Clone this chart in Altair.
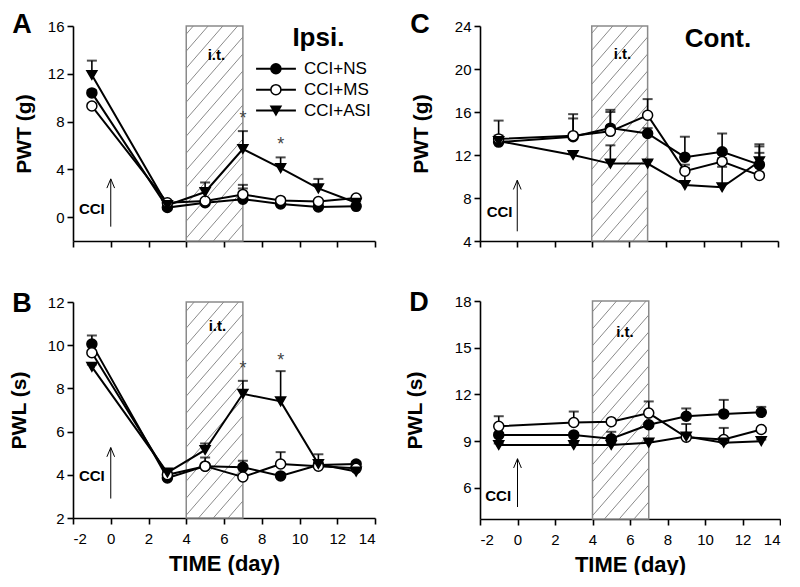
import altair as alt
import pandas as pd
import numpy as np

# ---------------- data ----------------
days = [-1, 3, 5, 7, 9, 11, 13]
groups = ["CCI+NS", "CCI+MS", "CCI+ASI"]

# A: PWT (g), ipsilateral
A_NS = [10.4, 0.8, 1.2, 1.5, 1.1, 0.85, 0.9]
A_MS = [9.3, 1.2, 1.35, 1.9, 1.4, 1.3, 1.6]
A_ASI = [11.9, 1.0, 2.1, 5.7, 4.1, 2.4, 1.2]
A_NS_err = [0.2, 0.1, 0.1, 0.9, 0.1, 0.1, 0.1]
A_MS_err = [0.2, 0.1, 0.1, 0.8, 0.1, 0.1, 0.1]
A_ASI_err = [1.2, 0.1, 0.8, 1.5, 0.9, 0.8, 0.1]

# B: PWL (s), ipsilateral
B_NS = [10.05, 3.85, 4.4, 4.35, 3.95, 4.45, 4.5]
B_MS = [9.65, 4.0, 4.4, 3.9, 4.5, 4.4, 4.3]
B_ASI = [9.0, 4.1, 5.15, 7.75, 7.4, 4.5, 4.15]
B_NS_err = [0.4, 0.3, 0.1, 0.3, 0.1, 0.1, 0.1]
B_MS_err = [0.1, 0.1, 0.4, 0.1, 0.55, 0.55, 0.1]
B_ASI_err = [0.1, 0.1, 0.3, 0.6, 1.4, 0.1, 0.1]

# C: PWT (g), contralateral
C_NS = [13.2, 13.7, 14.5, 14.0, 11.8, 12.3, 11.1]
C_MS = [13.5, 13.8, 14.2, 15.7, 10.5, 11.4, 10.1]
C_ASI = [13.3, 12.0, 11.2, 11.2, 9.2, 9.0, 11.4]
C_NS_err = [2.0, 1.7, 1.7, 0.5, 1.9, 1.7, 1.9]
C_MS_err = [0.3, 2.0, 1.8, 1.5, 0.3, 0.3, 2.7]
C_ASI_err = [0.3, 0.3, 1.7, 0.3, 1.9, 1.9, 0.8]

# D: PWL (s), contralateral
D_NS = [9.4, 9.4, 9.15, 10.05, 10.6, 10.75, 10.85]
D_MS = [9.95, 10.2, 10.25, 10.8, 9.25, 9.1, 9.75]
D_ASI = [8.75, 8.75, 8.75, 8.9, 9.3, 8.9, 9.0]
D_NS_err = [0.1, 0.1, 0.45, 0.1, 0.5, 0.9, 0.35]
D_MS_err = [0.65, 0.7, 0.1, 0.75, 0.1, 0.75, 0.1]
D_ASI_err = [0.1, 0.1, 0.1, 0.1, 0.8, 0.1, 0.1]

# significance stars (day, y)
A_star_days = [7, 9]
A_star_y = [8.2, 6.0]
B_star_days = [7, 9]
B_star_y = [8.9, 9.25]

xticks = [-2, 0, 2, 4, 6, 8, 10, 12, 14]
FONT = "Liberation Sans"

panels = {
    "A": dict(vals=(A_NS, A_MS, A_ASI), errs=(A_NS_err, A_MS_err, A_ASI_err),
              ydom=(-2, 16), yticks=[0, 4, 8, 12, 16], ytitle="PWT (g)", bottom=False,
              tpad=13, letter=(-51, -1), it=(5.6, 13.6), cci=(-1.0, 0.67), arrow=(-0.8, 3.2),
              side=("Ipsi.", 11.0, 15.0), stars=(A_star_days, A_star_y), legend=True,
              w=302, h=215),
    "B": dict(vals=(B_NS, B_MS, B_ASI), errs=(B_NS_err, B_MS_err, B_ASI_err),
              ydom=(2, 12), yticks=[2, 4, 6, 8, 10, 12], ytitle="PWL (s)", bottom=True,
              tpad=18, letter=(-51, 2), it=(5.65, 10.9), cci=(-1.0, 3.96), arrow=(2.9, 5.26),
              side=None, stars=(B_star_days, B_star_y), legend=False,
              w=302, h=216),
    "C": dict(vals=(C_NS, C_MS, C_ASI), errs=(C_NS_err, C_MS_err, C_ASI_err),
              ydom=(4, 24), yticks=[4, 8, 12, 16, 20, 24], ytitle="PWT (g)", bottom=False,
              tpad=23, letter=(-60, -1), it=(5.65, 21.4), cci=(-0.95, 6.7), arrow=(4.9, 9.65),
              side=("Cont.", 10.78, 22.8), stars=None, legend=False,
              w=298, h=215),
    "D": dict(vals=(D_NS, D_MS, D_ASI), errs=(D_NS_err, D_MS_err, D_ASI_err),
              ydom=(4, 18), yticks=[6, 9, 12, 15, 18], ytitle="PWL (s)", bottom=True,
              tpad=29, letter=(-61, 2), it=(5.73, 16.0), cci=(-1.03, 5.5), arrow=(4.77, 7.87),
              side=None, stars=None, legend=False,
              w=300, h=218),
}


def make_panel(key):
    p = panels[key]
    rows = []
    for g, v, e in zip(groups, p["vals"], p["errs"]):
        for d, vv, ee in zip(days, v, e):
            rows.append({"day": d, "value": vv, "top": vv + ee, "group": g})
    df = pd.DataFrame(rows)
    y0, y1 = p["ydom"]
    w, h = p["w"], p["h"]

    xscale = alt.Scale(domain=[-2, 14], nice=False, zero=False)
    yscale = alt.Scale(domain=[y0, y1], nice=False, zero=False)
    xaxis = alt.Axis(values=xticks, labels=p["bottom"], title="TIME (day)" if p["bottom"] else None,
                     titlePadding=7, labelPadding=7, labelExpr="'' + datum.value")
    yaxis = alt.Axis(values=p["yticks"], title=p["ytitle"], titlePadding=p["tpad"],
                     labelExpr="'' + datum.value")

    X = lambda f, **k: alt.X(f, scale=xscale, axis=xaxis, **k)
    Y = lambda f, **k: alt.Y(f, scale=yscale, axis=yaxis, **k)

    # hatched i.t. box
    box = alt.Chart(pd.DataFrame({"x": [4], "x2": [7], "y": [y0], "y2": [y1]})).mark_rect(
        fill="white", stroke="#8a8a8a", strokeWidth=1.5
    ).encode(x=X("x:Q"), x2="x2", y=Y("y:Q"), y2="y2")

    ppu = h / (y1 - y0)
    run_px = (7 - 4) * w / 16
    rise = run_px * 1.15 / ppu
    step = 17 / ppu
    starts = np.arange(y0 - rise, y1 + step, step)
    hatch_df = pd.DataFrame({"x": 4, "x2": 7, "y": starts, "y2": starts + rise})
    hatch = alt.Chart(hatch_df).mark_rule(clip=True, color="#8a8a8a", strokeWidth=1).encode(
        x=X("x:Q"), x2="x2", y=Y("y:Q"), y2="y2")

    err = alt.Chart(df).mark_rule(color="black", strokeWidth=1.6).encode(
        x=X("day:Q"), y=Y("value:Q"), y2="top")
    cap = alt.Chart(df).mark_tick(color="black", orient="horizontal", size=10, thickness=2).encode(
        x=X("day:Q"), y=Y("top:Q"))

    line = alt.Chart(df).mark_line(color="black", strokeWidth=2).encode(
        x=X("day:Q"), y=Y("value:Q"), detail="group:N")

    shape_scale = alt.Scale(domain=groups, range=["circle", "circle", "triangle-down"])
    fill_scale = alt.Scale(domain=groups, range=["black", "white", "black"])
    pts = alt.Chart(df).mark_point(filled=True, size=100, stroke="black", strokeWidth=1.5, opacity=1).encode(
        x=X("day:Q"), y=Y("value:Q"),
        shape=alt.Shape("group:N", scale=shape_scale, legend=None),
        fill=alt.Fill("group:N", scale=fill_scale, legend=None))

    layers = [box, hatch, err, cap, line, pts]

    # i.t. label
    layers.append(alt.Chart(pd.DataFrame({"x": [p["it"][0]], "y": [p["it"][1]], "t": ["i.t."]})).mark_text(
        font=FONT, fontSize=15, fontWeight="bold", color="black").encode(
        x=X("x:Q"), y=Y("y:Q"), text="t:N"))
    # CCI label + arrow
    layers.append(alt.Chart(pd.DataFrame({"x": [p["cci"][0]], "y": [p["cci"][1]], "t": ["CCI"]})).mark_text(
        font=FONT, fontSize=15, fontWeight="bold", color="black").encode(
        x=X("x:Q"), y=Y("y:Q"), text="t:N"))
    a0, a1 = p["arrow"]
    layers.append(alt.Chart(pd.DataFrame({"x": [0], "y": [a0], "y2": [a1]})).mark_rule(
        color="black", strokeWidth=1).encode(x=X("x:Q"), y=Y("y:Q"), y2="y2"))
    layers.append(alt.Chart(pd.DataFrame({"x": [0], "y": [a1]})).mark_point(
        shape="M -0.42 1 L 0 0 L 0.42 1", size=340, filled=False, stroke="black", strokeWidth=1,
        opacity=1).encode(x=X("x:Q"), y=Y("y:Q")))
    # panel letter
    lx, ly = p["letter"]
    layers.append(alt.Chart(pd.DataFrame({"t": [key]})).mark_text(
        font=FONT, fontSize=27, fontWeight="bold", color="black", align="center", baseline="middle").encode(
        x=alt.value(lx), y=alt.value(ly), text="t:N"))
    # side label
    if p["side"]:
        t, sx, sy = p["side"]
        layers.append(alt.Chart(pd.DataFrame({"x": [sx], "y": [sy], "t": [t]})).mark_text(
            font=FONT, fontSize=26, fontWeight="bold", color="black").encode(
            x=X("x:Q"), y=Y("y:Q"), text="t:N"))
    # stars
    if p["stars"]:
        sd, sy = p["stars"]
        layers.append(alt.Chart(pd.DataFrame({"x": sd, "y": sy, "t": ["*"] * len(sd)})).mark_text(
            font=FONT, fontSize=18, color="#444444", baseline="middle").encode(
            x=X("x:Q"), y=Y("y:Q"), text="t:N"))
    # legend
    if p["legend"]:
        leg = pd.DataFrame({"group": groups, "y": [12.42, 10.67, 8.92],
                            "x0": 7.7, "x1": 9.81, "xm": 8.75, "xt": 10.24})
        layers.append(alt.Chart(leg).mark_rule(color="black", strokeWidth=2).encode(
            x=X("x0:Q"), x2="x1", y=Y("y:Q")))
        layers.append(alt.Chart(leg).mark_point(filled=True, size=100, stroke="black", strokeWidth=1.5,
                                                opacity=1).encode(
            x=X("xm:Q"), y=Y("y:Q"),
            shape=alt.Shape("group:N", scale=shape_scale, legend=None),
            fill=alt.Fill("group:N", scale=fill_scale, legend=None)))
        layers.append(alt.Chart(leg).mark_text(font=FONT, fontSize=17, color="black", align="left").encode(
            x=X("xt:Q"), y=Y("y:Q"), text="group:N"))

    return alt.layer(*layers).properties(width=w, height=h)


left = alt.vconcat(make_panel("A"), make_panel("B"), spacing=42)
right = alt.vconcat(make_panel("C"), make_panel("D"), spacing=40)
chart = alt.hconcat(left, right, spacing=28).properties(
    padding={"left": 0, "top": 3, "right": 0, "bottom": 0}
).configure_view(stroke=None).configure_axis(
    grid=False, domainColor="black", domainWidth=1.6, tickColor="black", tickWidth=1.6,
    tickSize=6, labelFont=FONT, labelFontSize=15, labelColor="black", labelPadding=3,
    titleFont=FONT, titleFontSize=21, titleFontWeight="bold", titleColor="black"
).configure_axisX(titleFontSize=22)

chart.save("out.html", embed_options={"renderer": "svg", "actions": False})
